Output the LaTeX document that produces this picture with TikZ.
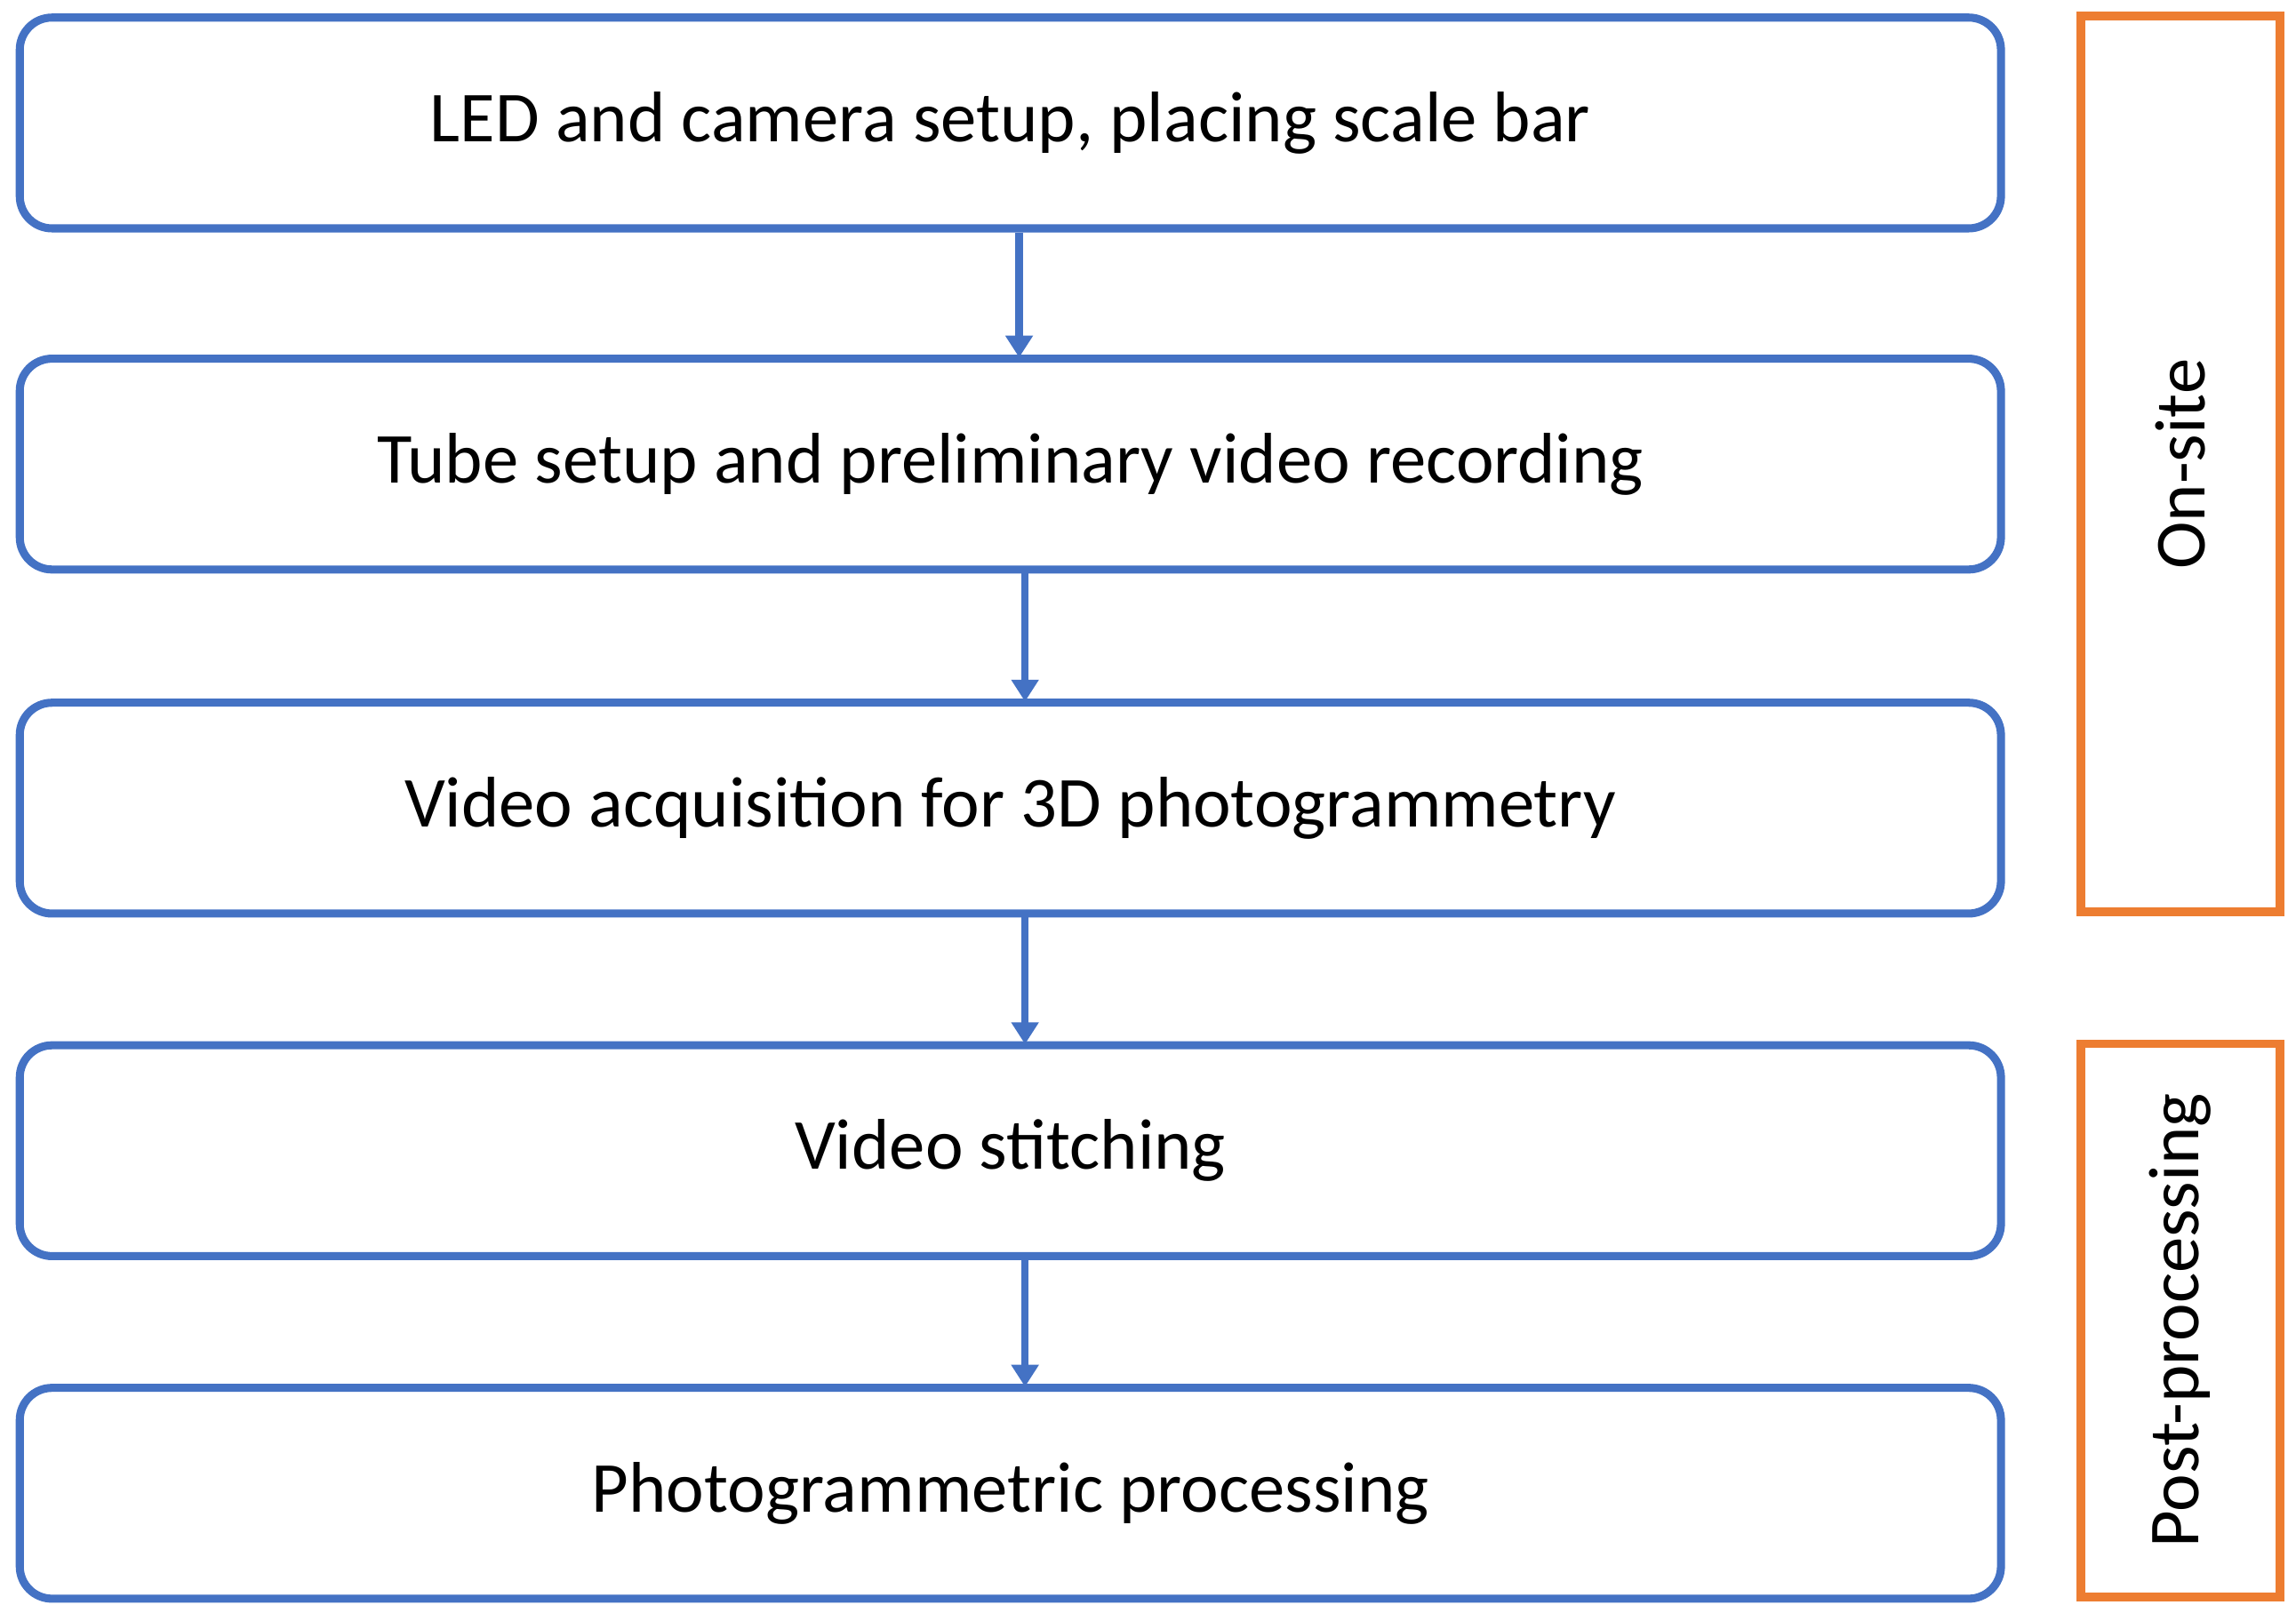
\documentclass[tikz,border=0pt]{standalone}
\usepackage{fontspec}
\setmainfont{Carlito}
\usetikzlibrary{arrows.meta}
\definecolor{bblue}{HTML}{4472C4}
\definecolor{borange}{HTML}{ED7D31}
\begin{document}
\begin{tikzpicture}[x=1pt,y=-1pt,
 stepbox/.style={draw=bblue,line width=5.5pt,rounded corners=22pt,minimum width=1353pt,minimum height=144pt,font=\fontsize{49}{58}\selectfont,inner sep=0pt},
 grp/.style={draw=borange,line width=6pt,minimum width=136pt,inner sep=0pt},
 lbl/.style={rotate=90,font=\fontsize{49}{58}\selectfont},
 arr/.style={draw=bblue,line width=5pt,-{Triangle[width=18pt,length=15pt]},shorten >=-2pt}]
\useasboundingbox (0,0) rectangle (1568,1107);
\node[stepbox] (a) at (690,84) {LED and camera setup, placing scale bar};
\node[stepbox] (b) at (690,317) {Tube setup and preliminary video recording};
\node[stepbox] (c) at (690,552) {Video acquisition for 3D photogrammetry};
\node[stepbox] (d) at (690,786) {Video stitching};
\node[stepbox] (e) at (690,1020) {Photogrammetric processing};
\draw[arr] (a.south -| 696,0) -- (b.north -| 696,0);
\draw[arr] (b.south -| 700,0) -- (c.north -| 700,0);
\draw[arr] (c.south -| 700,0) -- (d.north -| 700,0);
\draw[arr] (d.south -| 700,0) -- (e.north -| 700,0);
\node[grp,minimum height=612pt] (on) at (1489,317) {};
\node[lbl] (onl) at (on.center) {On-site};
\node[grp,minimum height=378pt] (post) at (1489,902) {};
\node[lbl] (postl) at (post.center) {Post-processing};
\end{tikzpicture}
\end{document}
